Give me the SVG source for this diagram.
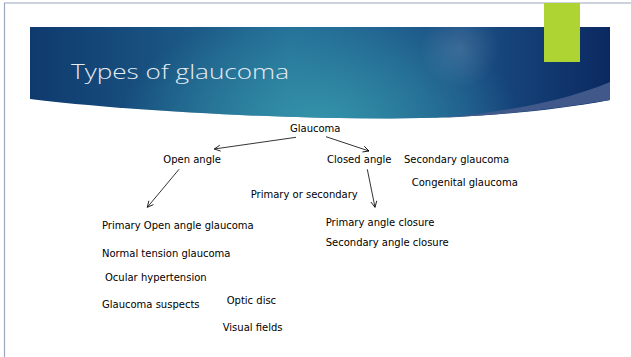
<svg xmlns="http://www.w3.org/2000/svg" width="631" height="357" viewBox="0 0 631 357">
<defs>
<linearGradient id="bannerLin" x1="30" y1="0" x2="610" y2="0" gradientUnits="userSpaceOnUse">
<stop offset="0" stop-color="#0f3a6e"/>
<stop offset="0.45" stop-color="#236c95"/>
<stop offset="0.75" stop-color="#1a4f84"/>
<stop offset="1" stop-color="#0b2961"/>
</linearGradient>
<radialGradient id="bannerGlow" cx="320" cy="125" r="200" gradientUnits="userSpaceOnUse" gradientTransform="translate(320 125) scale(1 0.6) translate(-320 -125)">
<stop offset="0" stop-color="#3596ab" stop-opacity="0.95"/>
<stop offset="1" stop-color="#3596ab" stop-opacity="0"/>
</radialGradient>
<radialGradient id="spot" cx="460" cy="48" r="40" gradientUnits="userSpaceOnUse">
<stop offset="0" stop-color="#ffffff" stop-opacity="0.14"/>
<stop offset="1" stop-color="#ffffff" stop-opacity="0"/>
</radialGradient>
<marker id="arr" viewBox="0 0 8 8" refX="7" refY="4" markerWidth="8" markerHeight="8" markerUnits="userSpaceOnUse" orient="auto">
<path d="M1,1 L7,4 L1,7" fill="none" stroke="#000" stroke-width="0.8"/>
</marker>
<style>
.t{font-family:"DejaVu Sans","Liberation Sans",sans-serif;font-size:10px;fill:#000}
.c{stroke:#000;stroke-width:0.8;fill:none;marker-end:url(#arr)}
</style>
</defs>
<rect x="0" y="0" width="631" height="357" fill="#ffffff"/>
<path d="M4.5,357 V3 H631" fill="none" stroke="#9aa7bf" stroke-width="1.2"/>
<g id="banner">
<path d="M30,27 H610 V100 C545,112 470,118.5 390,118.5 C260,118.5 110,109 30,99 Z" fill="url(#bannerLin)"/>
<path d="M30,27 H610 V100 C545,112 470,118.5 390,118.5 C260,118.5 110,109 30,99 Z" fill="url(#bannerGlow)"/>
<rect x="30" y="27" width="580" height="92" fill="url(#spot)"/>
<path d="M610,82 C570,99 515,111 440,118 C505,115 560,108 610,100 Z" fill="#41598a"/>
<text x="71" y="79" font-family="'Open Sans','Liberation Sans',sans-serif" font-weight="300" font-size="21" fill="#e6ecf3" textLength="218" lengthAdjust="spacingAndGlyphs">Types of glaucoma</text>
</g>
<rect id="accent" x="544" y="3" width="36" height="59" fill="#add433"/>
<g id="connectors">
<line class="c" x1="296" y1="137.3" x2="214.3" y2="149"/>
<line class="c" x1="326" y1="136.7" x2="369" y2="151"/>
<line class="c" x1="179" y1="169.3" x2="147.3" y2="207.3"/>
<line class="c" x1="367.3" y1="169.3" x2="375" y2="207.3"/>
</g>
<g id="glaucoma"><text class="t" x="290" y="131.5">Glaucoma</text></g>
<g id="open-angle"><text class="t" x="163.3" y="162.5">Open angle</text></g>
<g id="closed-angle"><text class="t" x="327" y="162.5">Closed angle</text></g>
<g id="secondary-glaucoma"><text class="t" x="404" y="162.5">Secondary glaucoma</text></g>
<g id="congenital-glaucoma"><text class="t" x="411.7" y="186">Congenital glaucoma</text></g>
<g id="primary-or-secondary"><text class="t" x="250.7" y="198">Primary or secondary</text></g>
<g id="poag"><text class="t" x="102" y="229">Primary Open angle glaucoma</text></g>
<g id="ntg"><text class="t" x="102" y="256.5">Normal tension glaucoma</text></g>
<g id="ocular-hypertension"><text class="t" x="105" y="281">Ocular hypertension</text></g>
<g id="glaucoma-suspects"><text class="t" x="102" y="308">Glaucoma suspects</text></g>
<g id="optic-disc"><text class="t" x="226.7" y="304">Optic disc</text></g>
<g id="visual-fields"><text class="t" x="222.7" y="331">Visual fields</text></g>
<g id="primary-angle-closure"><text class="t" x="325.7" y="226">Primary angle closure</text></g>
<g id="secondary-angle-closure"><text class="t" x="325.7" y="246">Secondary angle closure</text></g>
</svg>
